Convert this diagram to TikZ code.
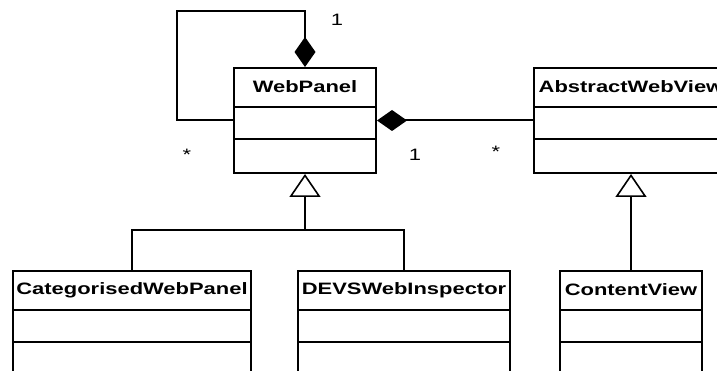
\documentclass[tikz,border=0pt]{standalone}
\usepackage{fontspec}
\newfontfamily\umlfont[FakeStretch=1.33]{Liberation Sans}
\usetikzlibrary{arrows.meta}
\begin{document}
\begin{tikzpicture}[x=1pt,y=-1pt,
  line width=2pt,
  classbox/.style={draw, line width=2pt, rectangle, anchor=north west, inner sep=0pt},
  ctitle/.style={font=\umlfont\bfseries\fontsize{16.5}{18}\selectfont, inner sep=0pt},
  mult/.style={font=\umlfont\fontsize{16.5}{18}\selectfont, inner sep=0pt},
  comp/.style={-{Diamond[length=30pt,width=21pt,line width=0pt,fill=black]}},
  compstart/.style={{Diamond[length=30pt,width=21pt,line width=0pt,fill=black]}-},
  inh/.style={-{Triangle[open,length=23pt,width=31pt,line width=1.6pt,fill=white]}}
]
\useasboundingbox (0,0) rectangle (717,371);
\clip (0,0) rectangle (717,371);
\fill[white] (0,0) rectangle (717,371);

% class boxes
\node[classbox, minimum width=142pt, minimum height=105pt] (wp) at (233,67) {};
\node[classbox, minimum width=194pt, minimum height=105pt] (awv) at (533,67) {};
\node[classbox, minimum width=238pt, minimum height=140pt] (cwp) at (12,270) {};
\node[classbox, minimum width=212pt, minimum height=140pt] (dwi) at (297,270) {};
\node[classbox, minimum width=142pt, minimum height=140pt] (cv) at (559,270) {};

% compartments
\foreach \b in {wp,awv,cwp,dwi,cv}{
  \draw ([yshift=-40pt]\b.north west) -- ([yshift=-40pt]\b.north east);
  \draw ([yshift=-72pt]\b.north west) -- ([yshift=-72pt]\b.north east);
}

% titles
\node[ctitle] (twp) at ([yshift=-20pt]wp.north) {WebPanel};
\node[ctitle] (tawv) at ([yshift=-20pt]awv.north) {AbstractWebView};
\node[ctitle] (tcwp) at ([yshift=-20pt]cwp.north) {CategorisedWebPanel};
\node[ctitle] (tdwi) at ([yshift=-20pt]dwi.north) {DEVSWebInspector};
\node[ctitle] (tcv) at ([yshift=-20pt]cv.north) {ContentView};

% self composition loop
\coordinate (loopc) at (177,11);
\draw[comp] (wp.west) -| (loopc) -| (wp.north);

% composition WebPanel - AbstractWebView
\draw[compstart] (wp.east) -- (awv.west);

% inheritance
\coordinate (junc) at (wp.south |- 0,230);
\draw (cwp.north) |- (junc) -| (dwi.north);
\draw[inh] (junc) -- (wp.south);
\draw[inh] (cv.north) -- (cv.north |- awv.south);

% multiplicities
\node[mult] (m1) at (337,20) {1};
\node[mult] (m2) at (187,155) {*};
\node[mult] (m3) at (415,155) {1};
\node[mult] (m4) at (496,152) {*};
\end{tikzpicture}
\end{document}
